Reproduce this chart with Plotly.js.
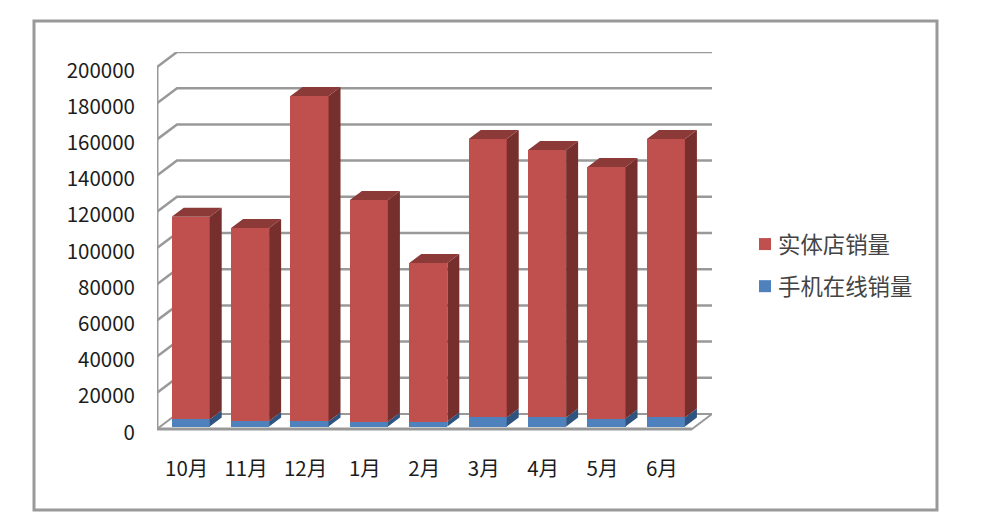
<!DOCTYPE html>
<html><head><meta charset="utf-8">
<script src="https://cdn.plot.ly/plotly-3.0.1.min.js"></script>
<style>html,body{margin:0;padding:0;background:#fff}#c{width:1000px;height:526px}</style>
</head><body><div id="c"></div>
<script>
const months = ['10月','11月','12月','1月','2月','3月','4月','5月','6月'];
const onlineSales = [3900,3000,2800,2600,2700,5000,5000,4400,5000];
const storeSales = [112000,106700,179800,122500,87600,153800,147700,139000,153800];
const yTicks = [0,20000,40000,60000,80000,100000,120000,140000,160000,180000,200000];

// Pixel layout of the pseudo-3D frame
const L=157,R=712,T=52,B=429,PB=436,W=1000,H=526;
const pxX=59.4, pxY=0.00181;         // pixels per category / per value unit
const wallDX=20/pxX, wallDY=15/pxY;  // depth of the chart box
const barDX=12/pxX, barDY=9/pxY;     // depth of a bar
const barHalf=0.32;
const xMin=-0.5, xMax=xMin+(R-L)/pxX;
const yLow=(B-PB)/pxY, yMax=(B-T)/pxY;
const barShiftX=4/pxX, barShiftY=2.5/pxY; // bars stand inside the box
const labelShift=3.5/pxY;                 // tick labels sit slightly below their gridlines

const GRID='#999999';
const traces=[];
// invisible carrier for the tick-label axis
traces.push({x:[0],y:[0],mode:'markers',marker:{opacity:0},showlegend:false,hoverinfo:'skip'});
// gridlines: wall bend and back line
yTicks.forEach(v=>{
  if(v===0) return;
  traces.push({x:[xMin,xMin+wallDX,xMax],y:[v,v+wallDY,v+wallDY],mode:'lines',yaxis:'y2',
    line:{color:GRID,width:2.5},showlegend:false,hoverinfo:'skip',cliponaxis:false});
});
// floor
traces.push({x:[xMin,xMin+wallDX,xMax,xMax-wallDX,xMin],y:[0,wallDY,wallDY,0,0],mode:'lines',yaxis:'y2',
  fill:'toself',fillcolor:'#fff',line:{color:GRID,width:2},showlegend:false,hoverinfo:'skip',cliponaxis:false});
// left wall and front floor edge
traces.push({x:[xMin,xMin,xMax-wallDX],y:[yTicks[yTicks.length-1],0,0],mode:'lines',yaxis:'y2',
  line:{color:GRID,width:3},showlegend:false,hoverinfo:'skip',cliponaxis:false});

// front faces
traces.push({type:'bar',name:'手机在线销量',x:months.map((m,i)=>i),y:onlineSales,xaxis:'x2',yaxis:'y3',
  marker:{color:'#4F81BD',line:{width:0}},legendrank:2,legendgroup:'b'});
traces.push({type:'bar',name:'实体店销量',x:months.map((m,i)=>i),y:storeSales,xaxis:'x2',yaxis:'y3',
  marker:{color:'#C0504D',line:{width:0}},legendrank:1,legendgroup:'a'});

// side faces for both stacks, top face only for the uppermost stack
function faces(getLow,getHigh,sideColor,topColor){
  const sx=[],sy=[],tx=[],ty=[];
  months.forEach((m,i)=>{
    const lo=getLow(i),hi=getHigh(i),a=i-barHalf,b=i+barHalf;
    sx.push(b,b+barDX,b+barDX,b,b,null); sy.push(lo,lo+barDY,hi+barDY,hi,lo,null);
    tx.push(a,a+barDX,b+barDX,b,a,null); ty.push(hi,hi+barDY,hi+barDY,hi,hi,null);
  });
  const base={mode:'lines',fill:'toself',xaxis:'x2',yaxis:'y3',line:{width:0},showlegend:false,hoverinfo:'skip',cliponaxis:false};
  traces.push(Object.assign({x:sx,y:sy,fillcolor:sideColor},base));
  if(topColor) traces.push(Object.assign({x:tx,y:ty,fillcolor:topColor},base));
}
faces(i=>0,i=>onlineSales[i],'#2F5480',null);
faces(i=>onlineSales[i],i=>onlineSales[i]+storeSales[i],'#772F2D','#8C3A38');

const fx=p=>(p-L)/(R-L), fy=p=>(PB-p)/(PB-T);
const FONT='"Noto Sans CJK SC","Noto Sans",sans-serif';
const layout={
  width:W,height:H,paper_bgcolor:'#fff',plot_bgcolor:'rgba(0,0,0,0)',
  margin:{l:L,r:W-R,t:T,b:H-PB,pad:0},barmode:'stack',bargap:1-2*barHalf,showlegend:true,
  font:{family:FONT,color:'#1c1c1c'},
  xaxis:{range:[xMin,xMax],tickmode:'array',tickvals:months.map((m,i)=>i),ticktext:months,
    showgrid:false,zeroline:false,showline:false,ticks:'',ticklabelstandoff:18,tickfont:{size:20.5,family:FONT,color:'#1c1c1c'}},
  yaxis:{range:[yLow+labelShift,yMax+labelShift],tickmode:'array',tickvals:yTicks,ticktext:yTicks.map(String),
    showgrid:false,zeroline:false,showline:false,ticks:'',ticklabelstandoff:21,tickfont:{size:20.5,family:FONT,color:'#1c1c1c'}},
  yaxis2:{overlaying:'y',anchor:'x',visible:false,range:[yLow,yMax]},
  xaxis2:{overlaying:'x',anchor:'y3',visible:false,range:[xMin-barShiftX,xMax-barShiftX]},
  yaxis3:{overlaying:'y',anchor:'x2',visible:false,range:[yLow-barShiftY,yMax-barShiftY]},
  legend:{x:fx(738),y:fy(223),xanchor:'left',yanchor:'top',bgcolor:'rgba(0,0,0,0)',tracegroupgap:10,
    font:{size:22.4,family:FONT,color:'#444'}},
  shapes:[{type:'rect',xref:'paper',yref:'paper',x0:fx(34),x1:fx(937),y0:fy(510),y1:fy(21),
    line:{color:'#999',width:3},fillcolor:'rgba(0,0,0,0)',layer:'below'}]
};
Plotly.newPlot('c',traces,layout,{displayModeBar:false,staticPlot:true}).then(()=>{
  // swatches sit closer to their text than the default legend spacing
  document.querySelectorAll('#c .legendsymbols').forEach(g=>g.setAttribute('transform','translate(7,0)'));
});
</script></body></html>
